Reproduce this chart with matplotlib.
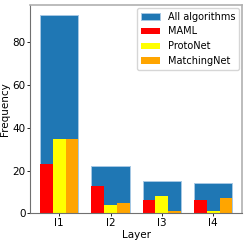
import matplotlib.pyplot as plt
import numpy as np

layers = ["l1", "l2", "l3", "l4"]
all_algorithms = [93, 22, 15, 14]
maml = [23, 13, 6, 6]
protonet = [35, 4, 8, 1]
matchingnet = [35, 5, 1, 7]

plt.rcParams["font.size"] = 7.5

fig, ax = plt.subplots(figsize=(2.49, 2.41), dpi=100)
x = np.arange(len(layers))
w = 0.25

ax.bar(x, all_algorithms, width=3 * w, color="#1f77b4", edgecolor="#a6c8e4",
       linewidth=0.7, label="All algorithms")
ax.bar(x - w, maml, width=w, color="red", label="MAML")
ax.bar(x, protonet, width=w, color="yellow", label="ProtoNet")
ax.bar(x + w, matchingnet, width=w, color="orange", label="MatchingNet")

ax.set_xticks(x)
ax.set_xticklabels(layers)
ax.set_yticks([0, 20, 40, 60, 80])
ax.set_xlabel("Layer", labelpad=1)
ax.set_ylabel("Frequency", labelpad=2)
ax.tick_params(length=2, width=0.6, pad=1.5)

for s in ["top", "right"]:
    ax.spines[s].set_color("#b0b0b0")
    ax.spines[s].set_linewidth(1.2)
for s in ["left", "bottom"]:
    ax.spines[s].set_color("#707070")
    ax.spines[s].set_linewidth(0.8)

ax.legend(loc="upper right", fontsize=7, borderaxespad=0.3)

fig.subplots_adjust(left=0.122, right=0.972, top=0.98, bottom=0.115)
fig.savefig("out.png", dpi=100)
